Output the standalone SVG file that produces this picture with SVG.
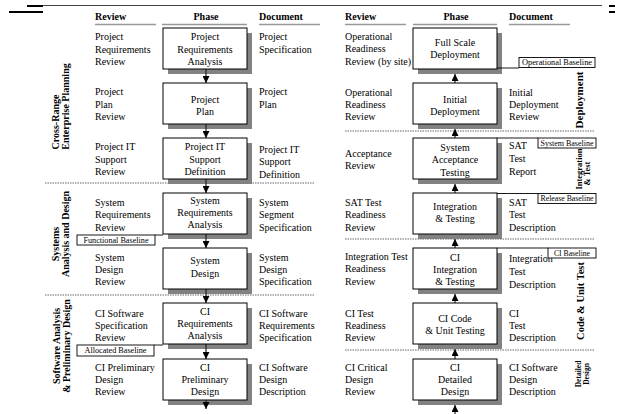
<svg xmlns="http://www.w3.org/2000/svg" width="620" height="414" viewBox="0 0 620 414">
<style>
text{font-family:"Liberation Serif","Times New Roman",serif;font-size:10px;fill:#000}
.h{font-weight:bold}
.c{text-anchor:middle}
.sec{font-weight:bold;text-anchor:middle}
.box{fill:#fff;stroke:#000;stroke-width:1}
.sh{fill:#828282}
.ul{stroke:#999;stroke-width:1.5}
.dot{stroke:#666;stroke-width:1;stroke-dasharray:1.5 1;fill:none}
.bl{fill:#fff;stroke:#000;stroke-width:0.9}
.blt{font-size:8px}
.arr{stroke:#222;stroke-width:1.2;fill:none;marker-end:url(#ah)}
.cn{stroke:#000;stroke-width:0.9;fill:none}
</style>
<defs>
<marker id="ah" viewBox="0 0 8 8" refX="8" refY="4" markerWidth="7" markerHeight="7" markerUnits="userSpaceOnUse" orient="auto">
<path d="M0,0 L8,4 L0,8 z" fill="#000"/>
</marker>
</defs>
<rect width="620" height="414" fill="#fff"/>

<g id="frame">
<line x1="43" y1="5.5" x2="602" y2="5.5" stroke="#444" stroke-width="1"/>
<line x1="27" y1="6" x2="43" y2="6" stroke="#000" stroke-width="2"/>
<line x1="9" y1="12" x2="43" y2="12" stroke="#000" stroke-width="2"/>
<line x1="609" y1="6" x2="615" y2="6" stroke="#000" stroke-width="2"/>
<line x1="609" y1="12" x2="615" y2="12" stroke="#000" stroke-width="2"/>
</g>

<g id="headers">
<text class="h" x="95" y="19.5">Review</text>
<text class="h c" x="206" y="19.5">Phase</text>
<text class="h" x="259" y="19.5">Document</text>
<text class="h" x="345" y="19.5">Review</text>
<text class="h c" x="456" y="19.5">Phase</text>
<text class="h" x="509" y="19.5">Document</text>
<line class="ul" x1="95" y1="24.5" x2="156" y2="24.5"/>
<line class="ul" x1="162" y1="24.5" x2="247" y2="24.5"/>
<line class="ul" x1="259" y1="24.5" x2="320" y2="24.5"/>
<line class="ul" x1="345" y1="24.5" x2="406" y2="24.5"/>
<line class="ul" x1="413" y1="24.5" x2="497" y2="24.5"/>
<line class="ul" x1="509" y1="24.5" x2="570" y2="24.5"/>
</g>

<g id="separators">
<line class="dot" x1="45" y1="183" x2="315" y2="183"/>
<line class="dot" x1="45" y1="295" x2="315" y2="295"/>
<line class="dot" x1="345" y1="131" x2="595" y2="131"/>
<line class="dot" x1="345" y1="239" x2="595" y2="239"/>
<line class="dot" x1="345" y1="350" x2="595" y2="350"/>
</g>

<g id="sections">
<text class="sec" transform="translate(59,122) rotate(-90)">Cross-Range</text>
<text class="sec" transform="translate(69,106.5) rotate(-90)">Enterprise Planning</text>
<text class="sec" transform="translate(59,244) rotate(-90)">Systems</text>
<text class="sec" transform="translate(69,234) rotate(-90)">Analysis and Design</text>
<text class="sec" transform="translate(60,346) rotate(-90)">Software Analysis</text>
<text class="sec" transform="translate(69.5,346) rotate(-90)">&amp; Preliminary Design</text>
<text class="sec" style="font-size:11px" transform="translate(583,100) rotate(-90)">Deployment</text>
<text class="sec" style="font-size:8.5px" transform="translate(582,169) rotate(-90)">Integration</text>
<text class="sec" style="font-size:8.5px" transform="translate(590,173.5) rotate(-90)">&amp; Test</text>
<text class="sec" style="font-size:10.5px" transform="translate(584,301) rotate(-90)">Code &amp; Unit Test</text>
<text class="sec" style="font-size:7.5px" transform="translate(581,374) rotate(-90)">Detailed</text>
<text class="sec" style="font-size:7.5px" transform="translate(589,374) rotate(-90)">Design</text>
</g>

<g id="shadows">
<rect class="sh" x="168" y="33" width="84" height="41"/>
<rect class="sh" x="168" y="88" width="84" height="41"/>
<rect class="sh" x="168" y="143" width="84" height="41"/>
<rect class="sh" x="168" y="198" width="84" height="41"/>
<rect class="sh" x="168" y="253" width="84" height="41"/>
<rect class="sh" x="168" y="308" width="84" height="41"/>
<rect class="sh" x="168" y="364" width="84" height="41"/>
<rect class="sh" x="418" y="33" width="84" height="41"/>
<rect class="sh" x="418" y="88" width="84" height="41"/>
<rect class="sh" x="418" y="143" width="84" height="41"/>
<rect class="sh" x="418" y="198" width="84" height="41"/>
<rect class="sh" x="418" y="253" width="84" height="41"/>
<rect class="sh" x="418" y="308" width="84" height="41"/>
<rect class="sh" x="418" y="364" width="84" height="41"/>
</g>

<g id="connectors">
<line class="arr" x1="206" y1="69" x2="206" y2="83"/>
<line class="arr" x1="206" y1="124" x2="206" y2="138"/>
<line class="arr" x1="206" y1="179" x2="206" y2="193"/>
<line class="arr" x1="206" y1="234" x2="206" y2="248"/>
<line class="arr" x1="206" y1="289" x2="206" y2="303"/>
<line class="arr" x1="206" y1="344" x2="206" y2="359"/>
<line class="arr" x1="206" y1="400" x2="206" y2="409"/>
<line class="arr" x1="455" y1="83" x2="455" y2="74"/>
<line class="arr" x1="455" y1="138" x2="455" y2="129"/>
<line class="arr" x1="455" y1="193" x2="455" y2="184"/>
<line class="arr" x1="455" y1="248" x2="455" y2="239"/>
<line class="arr" x1="455" y1="303" x2="455" y2="294"/>
<line class="arr" x1="455" y1="359" x2="455" y2="349"/>
<line class="arr" x1="455" y1="414" x2="455" y2="405"/>
<line class="cn" x1="497" y1="68" x2="519" y2="68"/>
<line class="cn" x1="497" y1="138" x2="538" y2="138"/>
<line class="cn" x1="497" y1="193.5" x2="538" y2="193.5"/>
<line class="cn" x1="497" y1="248" x2="548" y2="248"/>
<line class="cn" x1="155" y1="235" x2="163" y2="235"/>
<line class="cn" x1="154" y1="345" x2="163" y2="345"/>
</g>

<g id="p1"><rect class="box" x="163" y="28" width="84" height="41"/>
<text class="c" x="205" y="40">Project</text><text class="c" x="205" y="52.5">Requirements</text><text class="c" x="205" y="65">Analysis</text></g>
<g id="p2"><rect class="box" x="163" y="83" width="84" height="41"/>
<text class="c" x="205" y="102.5">Project</text><text class="c" x="205" y="114.5">Plan</text></g>
<g id="p3"><rect class="box" x="163" y="138" width="84" height="41"/>
<text class="c" x="205" y="150">Project IT</text><text class="c" x="205" y="162.5">Support</text><text class="c" x="205" y="175">Definition</text></g>
<g id="p4"><rect class="box" x="163" y="193" width="84" height="41"/>
<text class="c" x="205" y="203.5">System</text><text class="c" x="205" y="215.5">Requirements</text><text class="c" x="205" y="227.5">Analysis</text></g>
<g id="p5"><rect class="box" x="163" y="248" width="84" height="41"/>
<text class="c" x="205" y="263.5">System</text><text class="c" x="205" y="276.5">Design</text></g>
<g id="p6"><rect class="box" x="163" y="303" width="84" height="41"/>
<text class="c" x="205" y="314.5">CI</text><text class="c" x="205" y="326.5">Requirements</text><text class="c" x="205" y="338.5">Analysis</text></g>
<g id="p7"><rect class="box" x="163" y="359" width="84" height="41"/>
<text class="c" x="205" y="370.5">CI</text><text class="c" x="205" y="382.5">Preliminary</text><text class="c" x="205" y="395">Design</text></g>

<g id="q1"><rect class="box" x="413" y="28" width="84" height="41"/>
<text class="c" x="455" y="45.5">Full Scale</text><text class="c" x="455" y="58">Deployment</text></g>
<g id="q2"><rect class="box" x="413" y="83" width="84" height="41"/>
<text class="c" x="455" y="102.5">Initial</text><text class="c" x="455" y="114.5">Deployment</text></g>
<g id="q3"><rect class="box" x="413" y="138" width="84" height="41"/>
<text class="c" x="455" y="150.5">System</text><text class="c" x="455" y="163">Acceptance</text><text class="c" x="455" y="175.5">Testing</text></g>
<g id="q4"><rect class="box" x="413" y="193" width="84" height="41"/>
<text class="c" x="455" y="209.5">Integration</text><text class="c" x="455" y="221.5">&amp; Testing</text></g>
<g id="q5"><rect class="box" x="413" y="248" width="84" height="41"/>
<text class="c" x="455" y="260.5">CI</text><text class="c" x="455" y="272.5">Integration</text><text class="c" x="455" y="284.5">&amp; Testing</text></g>
<g id="q6"><rect class="box" x="413" y="303" width="84" height="41"/>
<text class="c" x="455" y="321.5">CI Code</text><text class="c" x="455" y="334">&amp; Unit Testing</text></g>
<g id="q7"><rect class="box" x="413" y="359" width="84" height="41"/>
<text class="c" x="455" y="370.5">CI</text><text class="c" x="455" y="382.5">Detailed</text><text class="c" x="455" y="395">Design</text></g>

<g id="reviews-left">
<text x="95" y="40">Project</text><text x="95" y="52.5">Requirements</text><text x="95" y="65">Review</text>
<text x="95" y="95">Project</text><text x="95" y="107.5">Plan</text><text x="95" y="120">Review</text>
<text x="95" y="150">Project IT</text><text x="95" y="162.5">Support</text><text x="95" y="175">Review</text>
<text x="95" y="205.5">System</text><text x="95" y="218">Requirements</text><text x="95" y="230.5">Review</text>
<text x="95" y="260.5">System</text><text x="95" y="272.5">Design</text><text x="95" y="284.5">Review</text>
<text x="95" y="316.5">CI Software</text><text x="95" y="328.5">Specification</text><text x="95" y="340.5">Review</text>
<text x="95" y="370.5">CI Preliminary</text><text x="95" y="383">Design</text><text x="95" y="395">Review</text>
</g>

<g id="documents-left">
<text x="259" y="40">Project</text><text x="259" y="52.5">Specification</text>
<text x="259" y="95">Project</text><text x="259" y="107.5">Plan</text>
<text x="259" y="152.5">Project IT</text><text x="259" y="165">Support</text><text x="259" y="177.5">Definition</text>
<text x="259" y="205.5">System</text><text x="259" y="218">Segment</text><text x="259" y="230.5">Specification</text>
<text x="259" y="260.5">System</text><text x="259" y="272.5">Design</text><text x="259" y="284.5">Specification</text>
<text x="259" y="316.5">CI Software</text><text x="259" y="328.5">Requirements</text><text x="259" y="340.5">Specification</text>
<text x="259" y="370.5">CI Software</text><text x="259" y="383">Design</text><text x="259" y="395">Description</text>
</g>

<g id="reviews-right">
<text x="345" y="39.5">Operational</text><text x="345" y="52">Readiness</text><text x="345" y="64.5">Review (by site)</text>
<text x="345" y="95.5">Operational</text><text x="345" y="107.5">Readiness</text><text x="345" y="119.5">Review</text>
<text x="345" y="156.5">Acceptance</text><text x="345" y="168.5">Review</text>
<text x="345" y="205.5">SAT Test</text><text x="345" y="217.5">Readiness</text><text x="345" y="230.5">Review</text>
<text x="345" y="259.5">Integration Test</text><text x="345" y="272">Readiness</text><text x="345" y="284.5">Review</text>
<text x="345" y="316.5">CI Test</text><text x="345" y="328.5">Readiness</text><text x="345" y="340.5">Review</text>
<text x="345" y="371">CI Critical</text><text x="345" y="383">Design</text><text x="345" y="395">Review</text>
</g>

<g id="documents-right">
<text x="509" y="95.5">Initial</text><text x="509" y="107.5">Deployment</text><text x="509" y="119.5">Review</text>
<text x="509" y="148.5">SAT</text><text x="509" y="162">Test</text><text x="509" y="174.5">Report</text>
<text x="509" y="205.5">SAT</text><text x="509" y="217.5">Test</text><text x="509" y="230.5">Description</text>
<text x="509" y="262">Integration</text><text x="509" y="275">Test</text><text x="509" y="288">Description</text>
<text x="509" y="316.5">CI</text><text x="509" y="328.5">Test</text><text x="509" y="340.5">Description</text>
<text x="509" y="371">CI Software</text><text x="509" y="383">Design</text><text x="509" y="395">Description</text>
</g>

<g id="bl-operational"><rect class="bl" x="519" y="57.5" width="76" height="10"/>
<text class="blt c" x="557" y="65.3" textLength="70" lengthAdjust="spacingAndGlyphs">Operational Baseline</text></g>
<g id="bl-system"><rect class="bl" x="538" y="138" width="58" height="10"/>
<text class="blt c" x="567" y="145.8" textLength="53" lengthAdjust="spacingAndGlyphs">System Baseline</text></g>
<g id="bl-release"><rect class="bl" x="538" y="193.5" width="58" height="10"/>
<text class="blt c" x="567" y="201.3" textLength="53" lengthAdjust="spacingAndGlyphs">Release Baseline</text></g>
<g id="bl-ci"><rect class="bl" x="548" y="248" width="48" height="10"/>
<text class="blt c" x="572" y="255.8" textLength="36" lengthAdjust="spacingAndGlyphs">CI Baseline</text></g>
<g id="bl-functional"><rect class="bl" x="77" y="235" width="78" height="10"/>
<text class="blt c" x="116" y="242.8" textLength="65" lengthAdjust="spacingAndGlyphs">Functional Baseline</text></g>
<g id="bl-allocated"><rect class="bl" x="77" y="345" width="77" height="11"/>
<text class="blt c" x="115.5" y="353.3" textLength="62" lengthAdjust="spacingAndGlyphs">Allocated Baseline</text></g>
</svg>
